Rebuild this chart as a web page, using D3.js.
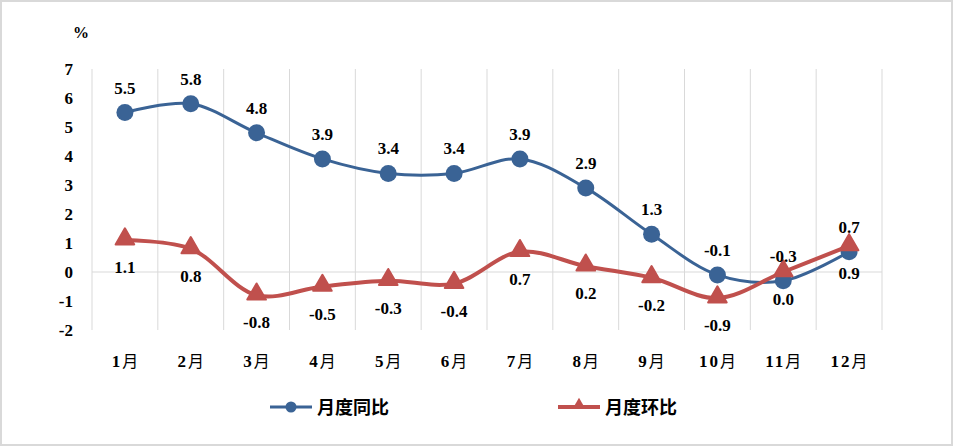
<!DOCTYPE html>
<html>
<head>
<meta charset="utf-8">
<script src="https://cdn.jsdelivr.net/npm/d3@7"></script>
<style>
  body { margin: 0; background: #fff; }
  text { font-family: "Liberation Serif", "Times New Roman", "Noto Sans CJK SC", serif; font-weight: bold; fill: #000; }
  .cjk { font-family: "Noto Sans CJK SC", sans-serif; }
</style>
</head>
<body>
<div id="chart"></div>
<script>
var months = ['1月', '2月', '3月', '4月', '5月', '6月', '7月', '8月', '9月', '10月', '11月', '12月'];
var yoy = [5.5, 5.8, 4.8, 3.9, 3.4, 3.4, 3.9, 2.9, 1.3, -0.1, -0.3, 0.7];   // 月度同比
var mom = [1.1, 0.8, -0.8, -0.5, -0.3, -0.4, 0.7, 0.2, -0.2, -0.9, 0.0, 0.9]; // 月度环比
var yTicks = [-2, -1, 0, 1, 2, 3, 4, 5, 6, 7];

var W = 954, H = 447;
var blue = '#3a6395', red = '#c0504d';

var svg = d3.select('#chart')
  .append('svg')
    .attr('width', W)
    .attr('height', H);

// outer frame
svg.append('rect')
  .attr('x', 1).attr('y', 1)
  .attr('width', W - 3).attr('height', H - 3)
  .attr('fill', 'none')
  .attr('stroke', '#d9d9d9')
  .attr('stroke-width', 2);

var x = d3.scaleBand()
  .domain(months)
  .range([92, 882]);

var y = d3.scaleLinear()
  .domain([-2, 7])
  .range([330, 69]);

var cx = function(d, i) { return x(months[i]) + x.bandwidth() / 2; };
// plain hyphen for negatives, like the original
var fmt1 = function(d) { return d.toFixed(1); };

// vertical gridlines at category edges
var edges = months.map(function(m) { return x(m); }).concat([x.range()[1]]);
svg.append('g')
  .selectAll('line')
  .data(edges)
  .enter()
    .append('line')
      .attr('x1', function(d) { return d; })
      .attr('x2', function(d) { return d; })
      .attr('y1', y(7))
      .attr('y2', y(-2))
      .attr('stroke', '#d9d9d9')
      .attr('stroke-width', 1);

// zero line
svg.append('line')
  .attr('x1', 92).attr('x2', 882)
  .attr('y1', y(0)).attr('y2', y(0))
  .attr('stroke', '#d9d9d9')
  .attr('stroke-width', 1);

// y axis labels
var yAxis = svg.append('g')
  .attr('transform', 'translate(73,0)')
  .call(d3.axisLeft(y).tickValues(yTicks).tickSize(0).tickPadding(0)
    .tickFormat(function(d) { return String(d); }));
yAxis.select('.domain').remove();
yAxis.selectAll('text')
  .attr('font-size', 17)
  .attr('font-family', null)
  .attr('fill', '#000');

svg.append('text')
  .attr('x', 81).attr('y', 38)
  .attr('text-anchor', 'middle')
  .attr('font-size', 16)
  .text('%');

// x axis labels
var xAxis = svg.append('g')
  .attr('transform', 'translate(0,' + 354 + ')')
  .call(d3.axisBottom(x).tickSize(0).tickPadding(0).tickFormat(''));
xAxis.select('.domain').remove();
xAxis.selectAll('.tick').append('text')
  .attr('y', 13)
  .attr('font-size', 17)
  .attr('text-anchor', 'middle')
  .each(function(d) {
    var t = d3.select(this);
    t.append('tspan').attr('letter-spacing', 2).text(d.replace('月', ''));
    t.append('tspan').attr('class', 'cjk').attr('font-weight', 'normal').attr('font-size', 16).text('月');
  });

var line = d3.line()
  .x(cx)
  .y(function(d) { return y(d); })
  .curve(d3.curveCatmullRom.alpha(0.5));

svg.append('path')
  .datum(yoy)
  .attr('d', line)
  .attr('fill', 'none')
  .attr('stroke', blue)
  .attr('stroke-width', 3);

svg.append('path')
  .datum(mom)
  .attr('d', line)
  .attr('fill', 'none')
  .attr('stroke', red)
  .attr('stroke-width', 4);

var tri = d3.symbol().type(d3.symbolTriangle).size(150);

svg.append('g')
  .selectAll('circle')
  .data(yoy)
  .enter()
    .append('circle')
      .attr('cx', cx)
      .attr('cy', function(d) { return y(d); })
      .attr('r', 8.5)
      .attr('fill', blue);

svg.append('g')
  .selectAll('path')
  .data(mom)
  .enter()
    .append('path')
      .attr('d', tri)
      .attr('transform', function(d, i) { return 'translate(' + cx(d, i) + ',' + (y(d) - 1) + ')'; })
      .attr('fill', red)
      .attr('stroke', red)
      .attr('stroke-width', 2)
      .attr('stroke-linejoin', 'round');

// data labels
svg.append('g')
  .selectAll('text')
  .data(yoy)
  .enter()
    .append('text')
      .attr('x', cx)
      .attr('y', function(d) { return y(d) - 19; })
      .attr('text-anchor', 'middle')
      .attr('font-size', 17)
      .text(fmt1);

svg.append('g')
  .selectAll('text')
  .data(mom)
  .enter()
    .append('text')
      .attr('x', cx)
      .attr('y', function(d) { return y(d) + 33; })
      .attr('text-anchor', 'middle')
      .attr('font-size', 17)
      .text(fmt1);

// legend
var legend = [
  { name: '月度同比', color: blue, x: 270, shape: 'circle' },
  { name: '月度环比', color: red, x: 558, shape: 'triangle' }
];
var lg = svg.append('g').attr('class', 'legend')
  .selectAll('g')
  .data(legend)
  .enter()
    .append('g')
      .attr('transform', function(d) { return 'translate(' + d.x + ',407)'; });
lg.append('line')
  .attr('x1', 0).attr('x2', 42)
  .attr('stroke', function(d) { return d.color; })
  .attr('stroke-width', function(d) { return d.shape === 'circle' ? 3 : 4; });
lg.each(function(d) {
  var g = d3.select(this);
  if (d.shape === 'circle') {
    g.append('circle').attr('cx', 21).attr('r', 5.5).attr('fill', d.color);
  } else {
    g.append('path').attr('d', d3.symbol().type(d3.symbolTriangle).size(70))
      .attr('transform', 'translate(21,-2)').attr('fill', d.color);
  }
});
lg.append('text')
  .attr('class', 'cjk')
  .attr('x', 47)
  .attr('y', 7)
  .attr('font-size', 18)
  .text(function(d) { return d.name; });
</script>
</body>
</html>
